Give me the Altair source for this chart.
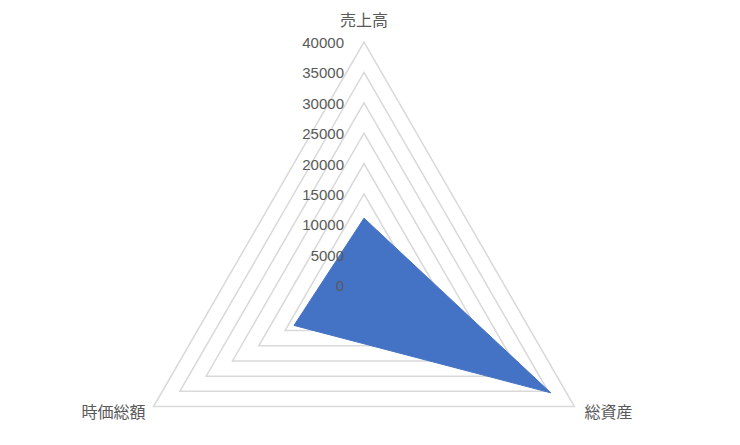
import math
import altair as alt
import pandas as pd

# ---- data ----
categories = ["売上高", "総資産", "時価総額"]
values = [11000, 35500, 13300]
tick_values = [0, 5000, 10000, 15000, 20000, 25000, 30000, 35000, 40000]
tick_labels = ["0", "5000", "10000", "15000", "20000", "25000", "30000", "35000", "40000"]
r_max = 40000

# ---- layout ----
W, H = 724, 425
CX, CY = 356, 277             # center of radar in plot px
K = 243 / r_max               # px per data unit
xdom = [-CX / K, (W - CX) / K]
ydom = [-(H - CY) / K, CY / K]

n = len(categories)
series_df = pd.DataFrame({"cat": categories, "value": values, "idx": list(range(n))})
grid_rows = []
for lv in tick_values[1:]:
    for i, c in enumerate(categories):
        grid_rows.append({"level": lv, "idx": i, "cat": c})
grid_df = pd.DataFrame(grid_rows)
tick_df = pd.DataFrame({"level": tick_values, "label": tick_labels})
cat_df = pd.DataFrame({"cat": categories, "idx": list(range(n)), "r": [r_max] * n})

xs = alt.Scale(domain=xdom, nice=False, zero=False)
ys = alt.Scale(domain=ydom, nice=False, zero=False)

def polar(chart, rfield):
    return chart.transform_calculate(
        theta=f"datum.idx * 2 * PI / {n}"
    ).transform_calculate(
        px=f"datum.{rfield} * sin(datum.theta)",
        py=f"datum.{rfield} * cos(datum.theta)",
    )

grid = polar(alt.Chart(grid_df), "level").mark_line(
    interpolate="linear-closed", stroke="#d9d9d9", strokeWidth=1.5
).encode(
    x=alt.X("px:Q", scale=xs, axis=None),
    y=alt.Y("py:Q", scale=ys, axis=None),
    detail="level:N",
    order="idx:Q",
)

area = polar(alt.Chart(series_df), "value").mark_line(
    interpolate="linear-closed", fill="#4472C4", stroke="#4472C4",
    strokeWidth=1, fillOpacity=1
).encode(
    x=alt.X("px:Q", scale=xs, axis=None),
    y=alt.Y("py:Q", scale=ys, axis=None),
    order="idx:Q",
)

ticks = alt.Chart(tick_df).mark_text(
    align="right", baseline="middle", dx=-20, dy=1,
    font="Liberation Sans", fontSize=15, color="#595959"
).encode(
    x=alt.X("px:Q", scale=xs, axis=None),
    y=alt.Y("level:Q", scale=ys, axis=None),
    text="label:N",
).transform_calculate(px="0")

def cat_label(i, align, dx, dy):
    return polar(alt.Chart(cat_df), "r").transform_filter(
        f"datum.idx == {i}"
    ).mark_text(
        align=align, baseline="middle", dx=dx, dy=dy,
        font="Noto Sans CJK JP", fontSize=16, color="#595959"
    ).encode(
        x=alt.X("px:Q", scale=xs, axis=None),
        y=alt.Y("py:Q", scale=ys, axis=None),
        text="cat:N",
    )

labels = cat_label(0, "center", 0, -21) + cat_label(1, "left", 10, 6) + cat_label(2, "right", -8, 6)

chart = alt.layer(grid, area, ticks, labels).properties(
    width=W, height=H, autosize="none", padding=0, background="white"
).configure_view(strokeWidth=0)

chart.save("out.html", embed_options={"renderer": "svg", "actions": False})
